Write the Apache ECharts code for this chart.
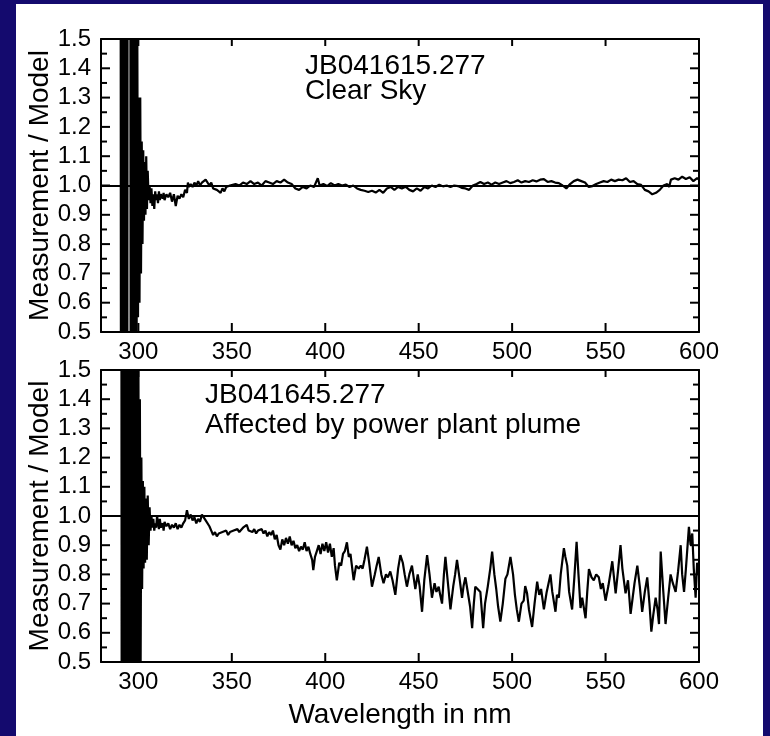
<!DOCTYPE html>
<html>
<head>
<meta charset="utf-8">
<script src="https://cdn.jsdelivr.net/npm/echarts@6/dist/echarts.min.js"></script>
<style>
html,body{margin:0;padding:0;background:#140a6e;}
#wrap{position:relative;width:770px;height:736px;background:#140a6e;overflow:hidden;}
#paper{position:absolute;left:16px;top:4px;width:747px;height:732px;background:#fff;}
#chart{position:absolute;left:0;top:0;width:770px;height:736px;}
</style>
</head>
<body>
<div id="wrap"><div id="paper"></div><div id="chart"></div></div>
<script>
// ---- Data ----
const xTicks = [300, 350, 400, 450, 500, 550, 600];
const yMajorTicks = [0.5, 0.6, 0.7, 0.8, 0.9, 1.0, 1.1, 1.2, 1.3, 1.4, 1.5];
const yMinorTicks = [0.55, 0.65, 0.75, 0.85, 0.95, 1.05, 1.15, 1.25, 1.35, 1.45];

const wlClear = [
290.4,290.8,291.2,291.6,292.0,292.4,292.8,293.2,293.6,294.0,294.3,295.6,296.0,296.4,296.6,297.0,297.4,297.8,298.2,298.6,
299.0,299.4,299.8,300.2,300.6,301.0,301.4,301.8,302.2,302.6,303.0,303.4,303.8,304.2,304.6,305.0,305.5,306,306.5,307,
307.5,308,308.5,309,309.5,310,310.5,311,311.5,312,313,313.5,314,315,316,317,318,319,320,321,
322,323,324,325,326,326.5,327,328,329,330,331,332,333,334,335,336,337,338,339,340,
341,342,343,344,345,346,347,348,349,350,352,354,356,358,360,362,364,366,368,370,
372,374,376,378,380,382,384,386,388,390,392,394,396,397,399,401,403,405,407,409,
411,413,415,417,419,421,423,425,427,429,431,433,435,437,439,441,443,445,447,449,
451,453,455,457,459,461,463,465,467,469,471,473,475,477,479,481,483,485,487,489,
491,493,495,497,499,501,503,505,507,509,511,513,515,517,519,521,523,525,527,529,
531,533,535,537,539,541,543,545,547,549,551,553,555,557,559,561,563,565,567,569,
571,573,575,576,577,579,581,583,584,585,587,589,591,593,595,597,599,600
];
const ratioClear = [
3,-1,3,-1,3,-1,3,-1,3,-1,3,3,-1,3,-1,3,-1,3,-1,2.5,
0.3,1.6,0.55,1.3,0.6,1.3,0.7,1.15,0.8,1.12,0.88,1.08,0.9,1.1,0.92,1.05,0.95,1.0,0.94,0.99,
0.93,0.97,0.92,0.98,0.95,0.97,0.94,0.98,0.95,0.97,0.955,0.975,0.95,0.97,0.96,0.975,0.945,0.97,0.93,0.965,
0.955,0.97,0.96,0.985,0.975,1.01,0.995,1.005,0.995,1.01,1.0,1.015,1.0,1.01,1.005,1.02,1.025,1.0,1.01,0.99,
0.995,0.985,0.99,0.975,0.99,0.98,0.995,0.99,1.0,0.995,1.005,1.0,1.01,1.005,1.015,1.005,1.01,1.0,1.015,1.01,
1.005,1.015,1.01,1.02,1.01,1.005,0.99,0.985,0.995,0.99,1.0,0.995,1.025,1.0,1.005,0.998,1.008,1.0,1.005,1.0,
1.003,0.995,1.0,0.99,0.985,0.982,0.978,0.982,0.976,0.985,0.975,0.99,0.995,0.985,0.995,0.99,0.996,0.985,0.98,0.99,
0.982,0.995,0.99,1.0,0.995,1.003,0.997,1.0,0.995,1.0,0.998,0.992,0.99,0.985,1.0,1.005,1.012,1.005,1.01,1.003,
1.01,1.005,1.01,1.015,1.008,1.012,1.018,1.01,1.015,1.012,1.018,1.014,1.02,1.022,1.012,1.015,1.01,1.008,1.0,0.99,
1.005,1.015,1.02,1.015,1.01,0.995,0.998,1.005,1.01,1.015,1.012,1.02,1.015,1.02,1.018,1.025,1.012,1.015,1.005,1.002,
0.985,0.98,0.97,0.965,0.975,0.985,1.0,1.005,0.995,1.02,1.025,1.02,1.03,1.022,1.028,1.015,1.025,1.02
];

const wlPlume = [
290.8,291.2,291.6,292.0,292.4,292.6,292.9,293.8,294.1,294.4,294.8,295.2,295.6,296,296.4,296.8,297.2,297.6,298,298.4,
298.8,299.2,299.6,300,300.4,300.8,301.2,301.6,302.0,302.4,302.8,303.2,303.6,304.0,304.5,305,305.5,306,306.5,307,
307.5,308,308.5,309,309.5,310,311,311.5,312,313,313.5,314,315,316,317,318,319,320,321,322,
323,324,325,326,327,328,329,330,331,332,333,334,335,336,337,338,339,340,341,342,
343,344,345,346,347,348,349,350,351,352,353,354,355,356,357,358,359,360,361,362,
363,364,365,366,367,368,369,370,371,372,373,374,375,376,377,378,379,380,381,382,
383,384,385,386,387,388,389,390,391,392,393,393.6,394.5,395.5,396.5,397.5,398.5,399.5,400.5,401.5,
402.5,403.5,404.5,405.2,406.2,407.5,408.5,409.5,410.5,411.6,412.6,413.5,415.2,416.5,417.9,419,420,421,422.3,423.5,
425,426.5,427.5,428.6,430,431.2,432.5,433.5,434.8,436,437.5,439,440.2,441.5,442.5,443.7,445,446.4,447.3,448.2,
449.5,450.5,451.8,453,454.5,455.8,457.1,458.5,459.5,460.7,461.5,462.5,463.5,464.3,465.5,467,468.5,469.5,470.5,471.8,
473.2,474,475,476,477.5,478.6,479.5,480.3,481.5,483,484.5,485.5,487,488.3,489.3,490.5,491.5,492.5,493.7,495,
496.4,497.5,499.1,500.5,501.5,502.5,503.6,505,506.2,507,508,509,510.7,512,513.4,514.5,515.5,517,518.5,520.5,
521.5,523.2,524,525,526,527.7,528.5,529.5,530.5,532.1,533.3,534.5,535.5,536.6,537.5,539.3,540.2,541.1,542.5,543.7,
545,546.4,547.5,548.5,550,551.5,552.5,553.6,554.5,555.4,556.8,558,559,560.7,562,563.4,564.5,565.5,567,568.3,
569.6,571,572.3,573.5,574.5,575.5,576.8,577.8,578.6,579.5,580.8,582.1,583.5,584.8,586,587.5,588.8,590.2,591,592,
593,594.6,595.5,596.4,597.2,598.2,599,600
];
const ratioPlume = [
3,-1,3,-1,3,-1,3,3,-1,3,-1,3,-1,3,-1,3,-1,3,-1,3,
-1,2,0.2,1.6,0.4,1.4,0.5,1.2,0.75,1.12,0.82,1.1,0.84,1.06,0.85,1.07,0.9,1.03,0.95,1.0,
0.96,0.99,0.95,0.975,0.96,1.0,0.955,0.99,0.96,0.975,0.95,0.98,0.965,0.975,0.955,0.97,0.96,0.975,0.955,0.97,
0.96,0.975,0.985,1.02,0.99,1.005,0.985,0.995,0.975,0.99,0.98,1.005,1.0,0.985,0.99,0.965,0.95,0.935,0.945,0.93,
0.94,0.935,0.945,0.94,0.95,0.935,0.945,0.94,0.95,0.945,0.955,0.945,0.95,0.96,0.955,0.97,0.95,0.955,0.945,0.955,
0.94,0.95,0.945,0.955,0.94,0.95,0.93,0.945,0.935,0.95,0.92,0.935,0.9,0.885,0.92,0.9,0.925,0.905,0.93,0.9,
0.915,0.89,0.9,0.88,0.895,0.885,0.91,0.88,0.895,0.87,0.85,0.815,0.86,0.88,0.9,0.87,0.905,0.88,0.91,0.875,
0.905,0.86,0.89,0.83,0.78,0.84,0.83,0.87,0.88,0.91,0.86,0.87,0.78,0.83,0.82,0.83,0.82,0.85,0.895,0.84,
0.758,0.8,0.83,0.86,0.8,0.77,0.8,0.79,0.81,0.78,0.73,0.82,0.866,0.84,0.8,0.758,0.8,0.83,0.79,0.75,
0.8,0.76,0.672,0.78,0.866,0.8,0.72,0.77,0.74,0.758,0.73,0.7,0.8,0.86,0.78,0.68,0.76,0.8,0.85,0.79,
0.72,0.76,0.79,0.75,0.69,0.616,0.7,0.758,0.75,0.74,0.616,0.7,0.76,0.82,0.878,0.8,0.75,0.69,0.638,0.7,
0.785,0.8,0.86,0.8,0.73,0.68,0.638,0.7,0.71,0.76,0.735,0.68,0.62,0.7,0.775,0.73,0.75,0.68,0.74,0.8,
0.74,0.672,0.73,0.72,0.8,0.89,0.86,0.83,0.74,0.68,0.79,0.912,0.8,0.685,0.72,0.65,0.74,0.818,0.79,0.78,
0.8,0.79,0.75,0.77,0.71,0.76,0.8,0.845,0.79,0.735,0.82,0.9,0.82,0.735,0.78,0.665,0.72,0.77,0.83,0.76,
0.672,0.74,0.79,0.7,0.604,0.66,0.72,0.68,0.63,0.878,0.75,0.63,0.72,0.8,0.77,0.74,0.81,0.9,0.8,0.74,
0.82,0.963,0.9,0.94,0.82,0.72,0.84,0.8
];

const yTitle = 'Measurement / Model';
const xTitle = 'Wavelength in nm';
const note1 = ['JB041615.277', 'Clear Sky'];
const note2 = ['JB041645.277', 'Affected by power plant plume'];
const refValue = 1.0;

// ---- Chart ----
const FONT = "'Liberation Sans', Arial, Helvetica, sans-serif";
const pairs = (xs, ys) => xs.map((x, i) => [x, ys[i]]);

function xAx(gridIndex, pos, labels) {
  return {
    type: 'value', gridIndex, position: pos, min: 280, max: 600,
    axisLine: { show: true, onZero: false, lineStyle: { color: '#000', width: 2 } },
    axisTick: { show: false },
    axisLabel: { show: labels, customValues: xTicks, color: '#000', fontSize: 24, fontFamily: FONT, margin: 8 },
    splitLine: { show: false }
  };
}
function yAx(gridIndex, pos, labels) {
  return {
    type: 'value', gridIndex, position: pos, min: 0.5, max: 1.5, interval: 0.1,
    name: labels ? yTitle : '', nameLocation: 'middle', nameGap: 47, nameRotate: 90, nameMoveOverlap: false,
    nameTextStyle: { color: '#000', fontSize: 28, fontFamily: FONT },
    axisLine: { show: true, onZero: false, lineStyle: { color: '#000', width: 2 } },
    axisTick: { show: false },
    minorTick: { show: false },
    axisLabel: { show: labels, color: '#000', fontSize: 24, fontFamily: FONT, margin: 10, formatter: v => v.toFixed(1) },
    splitLine: { show: false }
  };
}
function lineSeries(xi, yi, xs, ys) {
  return {
    type: 'line', xAxisIndex: xi, yAxisIndex: yi, data: pairs(xs, ys),
    showSymbol: false, symbol: 'none', clip: true, animation: false,
    lineStyle: { color: '#000', width: 2.2 },
    markLine: {
      silent: true, symbol: 'none', label: { show: false }, animation: false,
      lineStyle: { color: '#000', width: 2, type: 'solid' },
      data: [{ yAxis: refValue }]
    }
  };
}
// Inward tick marks, placed through the axis scale (kind 0 = x tick, 1 = y major, 2 = y minor)
const tickData = [].concat(
  xTicks.map(v => [v, 1.0, 0]),
  yMajorTicks.map(v => [400, v, 1]),
  yMinorTicks.map(v => [400, v, 2])
);
function tickSeries(xi, yi) {
  return {
    type: 'custom', xAxisIndex: xi, yAxisIndex: yi, data: tickData, clip: false,
    silent: true, animation: false, z: 10,
    renderItem: function (params, api) {
      const cs = params.coordSys;
      const p = api.coord([api.value(0), api.value(1)]);
      const k = api.value(2);
      const st = { stroke: '#000', lineWidth: 2 };
      let segs;
      if (k === 0) {
        const b = cs.y + cs.height, t = cs.y;
        segs = [[p[0], b, p[0], b - 9], [p[0], t, p[0], t + 7]];
      } else {
        const len = k === 1 ? 9 : 6;
        const l = cs.x, r = cs.x + cs.width;
        segs = [[l, p[1], l + len, p[1]], [r, p[1], r - len, p[1]]];
      }
      return {
        type: 'group',
        children: segs.map(s => ({ type: 'line', shape: { x1: s[0], y1: s[1], x2: s[2], y2: s[3] }, style: st }))
      };
    }
  };
}

const chart = echarts.init(document.getElementById('chart'), null, { renderer: 'canvas' });
chart.setOption({
  backgroundColor: 'transparent',
  animation: false,
  grid: [
    { left: 101, top: 39, width: 598, height: 293 },
    { left: 101, top: 370, width: 598, height: 292 }
  ],
  xAxis: [
    xAx(0, 'bottom', true), xAx(0, 'top', false),
    Object.assign(xAx(1, 'bottom', true), {
      name: xTitle, nameLocation: 'middle', nameGap: 39, nameMoveOverlap: false,
      nameTextStyle: { color: '#000', fontSize: 28, fontFamily: FONT }
    }),
    xAx(1, 'top', false)
  ],
  yAxis: [yAx(0, 'left', true), yAx(0, 'right', false), yAx(1, 'left', true), yAx(1, 'right', false)],
  graphic: [
    { type: 'text', left: 305, top: 52, silent: true,
      style: { text: note1.join('\n'), fill: '#000', fontSize: 28, lineHeight: 25, fontFamily: FONT } },
    { type: 'text', left: 205, top: 380, silent: true,
      style: { text: note2.join('\n'), fill: '#000', fontSize: 28, lineHeight: 30, fontFamily: FONT } }
  ],
  series: [
    lineSeries(0, 0, wlClear, ratioClear), lineSeries(2, 2, wlPlume, ratioPlume),
    tickSeries(0, 0), tickSeries(2, 2)
  ]
});
</script>
</body>
</html>
